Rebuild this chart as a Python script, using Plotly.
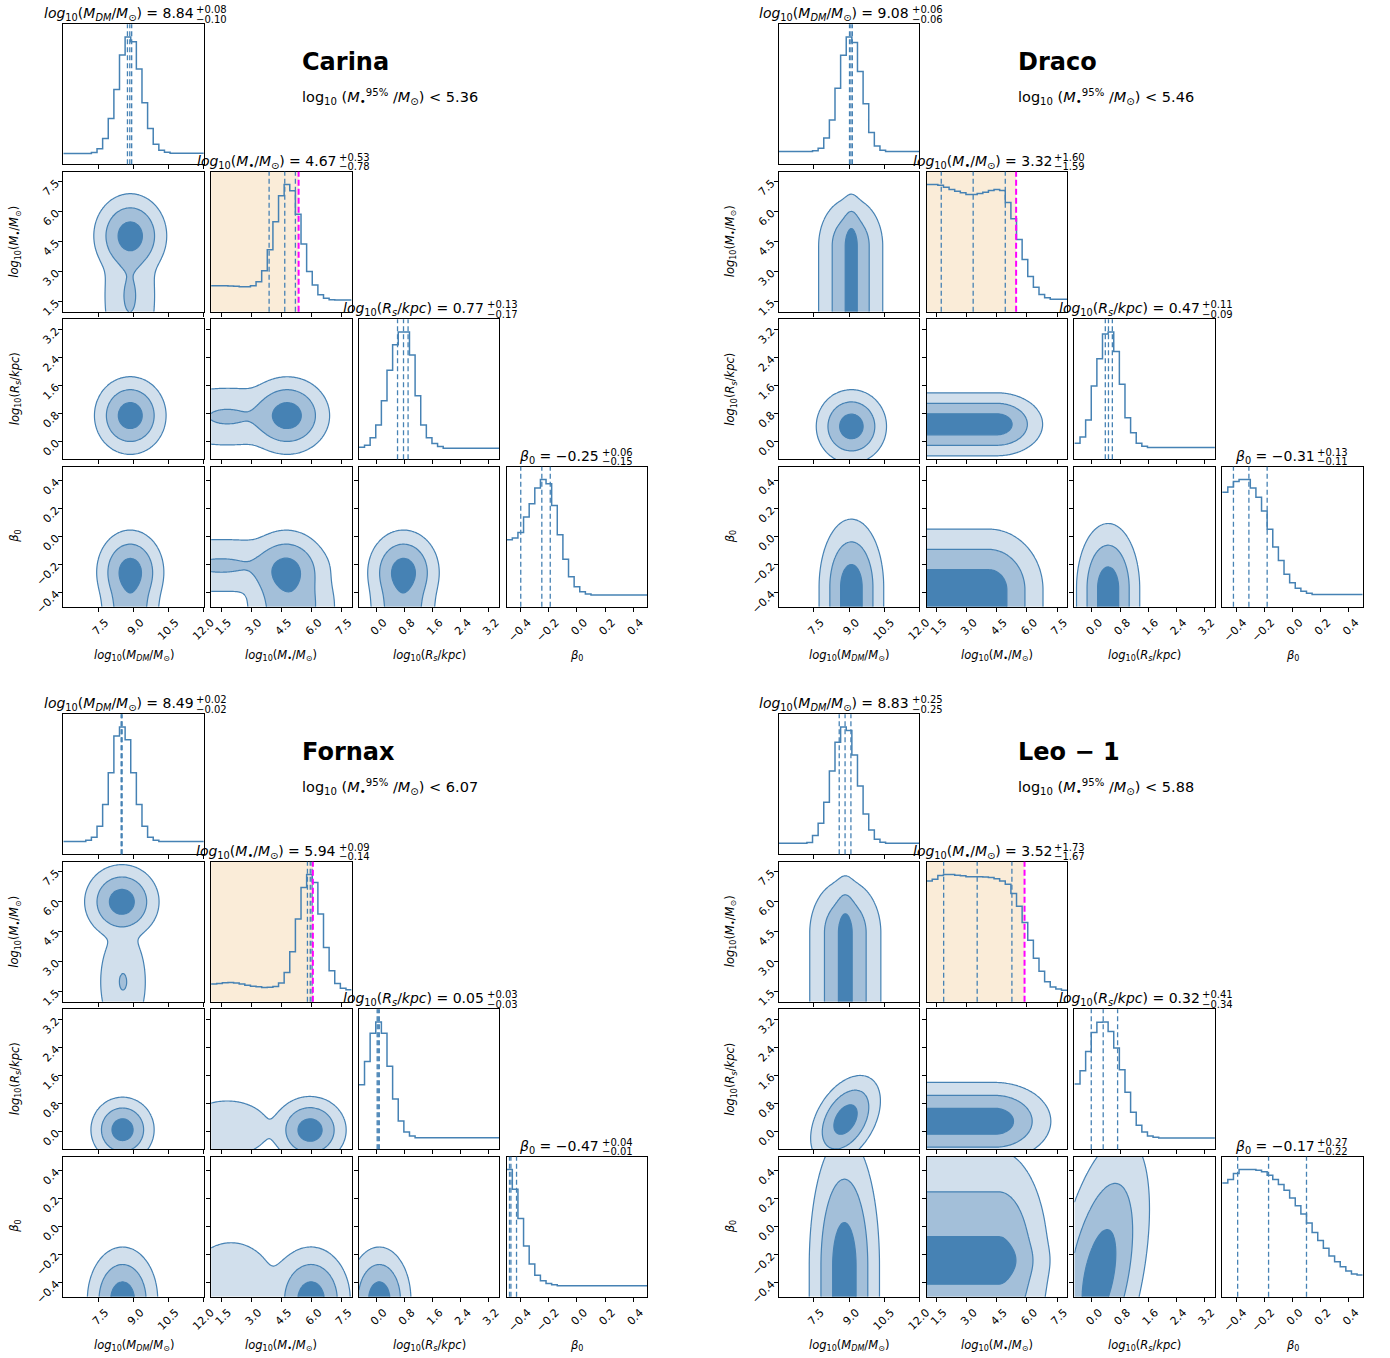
import numpy as np
import plotly.graph_objects as go

W, H = 1390, 1358

# ---------------- axes ----------------
MDM_RANGE = [6.0, 12.0]
MSTAR_RANGE = [1.0, 8.0]
RS_RANGE = [-0.5, 3.5]
BETA_RANGE = [-0.5, 0.5]

MDM_TICKS = [7.5, 9.0, 10.5, 12.0]
MSTAR_TICKS = [1.5, 3.0, 4.5, 6.0, 7.5]
RS_TICKS = [0.0, 0.8, 1.6, 2.4, 3.2]
BETA_TICKS = [-0.4, -0.2, 0.0, 0.2, 0.4]

PARAM_LABELS = [
    "<i>log</i><sub>10</sub>(<i>M</i><sub><i>DM</i></sub>/<i>M</i><sub>⊙</sub>)",
    "<i>log</i><sub>10</sub>(<i>M</i><sub>•</sub>/<i>M</i><sub>⊙</sub>)",
    "<i>log</i><sub>10</sub>(<i>R</i><sub><i>s</i></sub>/<i>kpc</i>)",
    "<i>β</i><sub>0</sub>",
]

GALAXY_NAMES = ["Carina", "Draco", "Fornax", "Leo − 1"]

# ---------------- Carina ----------------
CARINA_SUMMARY = [(8.84, 0.08, 0.10), (4.67, 0.53, 0.78), (0.77, 0.13, 0.17), (-0.25, 0.06, 0.15)]
CARINA_LIMIT = 5.36
CARINA_HIST_MDM = [0.084, 0.084, 0.084, 0.084, 0.084, 0.092, 0.123, 0.202, 0.36, 0.588, 0.858, 1.0, 0.963,
                   0.748, 0.483, 0.281, 0.158, 0.11, 0.095, 0.086, 0.086, 0.086, 0.086, 0.086, 0.086]
CARINA_HIST_MSTAR = [0.204, 0.204, 0.205, 0.203, 0.200, 0.197, 0.196, 0.205, 0.236, 0.322, 0.487, 0.707, 0.911,
                     1.0, 0.951, 0.767, 0.532, 0.317, 0.21, 0.134, 0.107, 0.094, 0.092, 0.092, 0.092]
CARINA_HIST_RS = [0.094, 0.11, 0.17, 0.27, 0.46, 0.70, 0.90, 1.0, 1.0, 0.82, 0.5, 0.27, 0.17, 0.125, 0.10,
                  0.086, 0.086, 0.086, 0.086, 0.086, 0.086, 0.086, 0.086, 0.086, 0.086]
CARINA_HIST_BETA = [0.526, 0.54, 0.584, 0.705, 0.81, 0.934, 1.0, 0.966, 0.795, 0.566, 0.374, 0.237, 0.158,
                    0.118, 0.10, 0.092, 0.092, 0.092, 0.092, 0.092, 0.092, 0.092, 0.092, 0.092, 0.092]
# density components: (x0, x1, y0, y1, sx, sy, weight, shear)
CARINA_KDE_MDM_MSTAR = [(8.86, 8.86, 4.8, 4.8, 0.52, 0.70, 1.0, 0), (8.84, 8.84, 1.8, 1.8, 0.46, 1.5, 0.16, 0)]
CARINA_KDE_MDM_RS = [(8.86, 8.86, 0.75, 0.75, 0.51, 0.37, 1.0, 0)]
CARINA_KDE_MSTAR_RS = [(4.8, 4.8, 0.75, 0.75, 0.70, 0.37, 1.0, 0), (1.8, 1.8, 0.72, 0.72, 1.5, 0.35, 0.165, 0)]
CARINA_KDE_MDM_BETA = [(8.86, 8.86, -0.25, -0.25, 0.48, 0.10, 1.0, 0), (8.86, 8.86, -0.5, -0.5, 0.44, 0.12, 0.45, 0)]
CARINA_KDE_MSTAR_BETA = [(4.75, 4.75, -0.25, -0.25, 0.68, 0.10, 1.0, 0), (5.0, 5.0, -0.5, -0.5, 0.8, 0.13, 0.45, 0),
                         (1.5, 1.5, -0.205, -0.205, 2.0, 0.08, 0.18, 0)]
CARINA_KDE_RS_BETA = [(0.77, 0.77, -0.25, -0.25, 0.34, 0.10, 1.0, 0), (0.75, 0.75, -0.5, -0.5, 0.33, 0.12, 0.45, 0)]

# ---------------- Draco ----------------
DRACO_SUMMARY = [(9.08, 0.06, 0.06), (3.32, 1.60, 1.59), (0.47, 0.11, 0.09), (-0.31, 0.13, 0.11)]
DRACO_LIMIT = 5.46
DRACO_HIST_MDM = [0.1, 0.1, 0.1, 0.1, 0.1, 0.1, 0.106, 0.126, 0.206, 0.349, 0.598, 0.857, 1.0, 0.957, 0.73,
                  0.475, 0.25, 0.143, 0.11, 0.1, 0.1, 0.1, 0.1, 0.1, 0.1]
DRACO_HIST_MSTAR = [1.0, 1.0, 0.994, 0.979, 0.961, 0.948, 0.935, 0.922, 0.922, 0.93, 0.94, 0.954, 0.961, 0.954,
                    0.858, 0.731, 0.569, 0.41, 0.277, 0.193, 0.136, 0.11, 0.098, 0.098, 0.098]
DRACO_HIST_RS = [0.126, 0.176, 0.309, 0.575, 0.79, 0.984, 1.0, 0.847, 0.59, 0.326, 0.209, 0.126, 0.103, 0.093,
                 0.093, 0.093, 0.093, 0.093, 0.093, 0.093, 0.093, 0.093, 0.093, 0.093, 0.093]
DRACO_HIST_BETA = [0.901, 0.941, 0.984, 1.0, 1.0, 0.934, 0.861, 0.752, 0.61, 0.47, 0.364, 0.255, 0.189, 0.146,
                   0.123, 0.106, 0.096, 0.096, 0.096, 0.096, 0.096, 0.096, 0.096, 0.096, 0.096]
DRACO_KDE_MDM_MSTAR = [(9.1, 9.1, -99, 4.3, 0.18, 0.86, 0.53, 0), (9.07, 9.07, -99, 4.3, 0.5, 0.86, 0.47, 0)]
DRACO_KDE_MDM_RS = [(9.1, 9.1, 0.44, 0.44, 0.5, 0.35, 1.0, 0)]
DRACO_KDE_MSTAR_RS = [(-99, 4.5, 0.5, 0.5, 0.76, 0.3, 1.0, 0)]
DRACO_KDE_MDM_BETA = [(9.1, 9.1, -99, -0.36, 0.46, 0.162, 1.0, 0)]
DRACO_KDE_MSTAR_BETA = [(-99, 4.1, -99, -0.38, 0.9, 0.145, 1.0, 0)]
DRACO_KDE_RS_BETA = [(0.46, 0.46, -99, -0.37, 0.3, 0.155, 1.0, 0)]

# ---------------- Fornax ----------------
FORNAX_SUMMARY = [(8.49, 0.02, 0.02), (5.94, 0.09, 0.14), (0.05, 0.03, 0.03), (-0.47, 0.04, 0.01)]
FORNAX_LIMIT = 6.07
FORNAX_HIST_MDM = [0.1, 0.1, 0.1, 0.1, 0.11, 0.133, 0.22, 0.392, 0.641, 0.93, 1.0, 0.9, 0.641, 0.392, 0.22,
                   0.133, 0.11, 0.1, 0.1, 0.1, 0.1, 0.1, 0.1, 0.1, 0.1]
FORNAX_HIST_MSTAR = [0.139, 0.144, 0.149, 0.152, 0.147, 0.139, 0.131, 0.123, 0.118, 0.113, 0.115, 0.12, 0.147,
                     0.23, 0.393, 0.65, 0.898, 1.0, 0.938, 0.689, 0.427, 0.244, 0.144, 0.107, 0.094]
FORNAX_HIST_RS = [0.508, 0.69, 0.912, 1.0, 0.912, 0.652, 0.396, 0.222, 0.136, 0.104, 0.091, 0.091, 0.091, 0.091,
                  0.091, 0.091, 0.091, 0.091, 0.091, 0.091, 0.091, 0.091, 0.091, 0.091, 0.091]
FORNAX_HIST_BETA = [1.0, 0.846, 0.615, 0.4, 0.257, 0.17, 0.126, 0.105, 0.094, 0.086, 0.086, 0.086, 0.086, 0.086,
                    0.086, 0.086, 0.086, 0.086, 0.086, 0.086, 0.086, 0.086, 0.086, 0.086, 0.086]
FORNAX_KDE_MDM_MSTAR = [(8.5, 8.5, 6.0, 6.0, 0.53, 0.62, 1.0, 0), (8.55, 8.55, 2.0, 2.0, 0.42, 1.1, 0.145, 0)]
FORNAX_KDE_MDM_RS = [(8.53, 8.53, 0.06, 0.06, 0.45, 0.31, 1.0, 0)]
FORNAX_KDE_MSTAR_RS = [(5.93, 5.93, 0.05, 0.05, 0.6, 0.32, 1.0, 0), (1.8, 1.8, 0.1, 0.1, 1.2, 0.45, 0.05, 0)]
FORNAX_KDE_MDM_BETA = [(8.53, 8.53, -0.52, -0.52, 0.5, 0.125, 1.0, 0)]
FORNAX_KDE_MSTAR_BETA = [(5.98, 5.98, -0.52, -0.52, 0.65, 0.125, 1.0, 0), (2.0, 2.0, -0.45, -0.45, 1.3, 0.2, 0.045, 0)]
FORNAX_KDE_RS_BETA = [(0.08, 0.08, -0.52, -0.52, 0.3, 0.125, 1.0, 0)]

# ---------------- Leo-1 ----------------
LEO_SUMMARY = [(8.83, 0.25, 0.25), (3.52, 1.73, 1.67), (0.32, 0.41, 0.34), (-0.17, 0.27, 0.22)]
LEO_LIMIT = 5.88
LEO_HIST_MDM = [0.086, 0.086, 0.086, 0.086, 0.086, 0.092, 0.147, 0.244, 0.409, 0.655, 0.88, 1.0, 0.972, 0.78,
                0.537, 0.317, 0.191, 0.118, 0.094, 0.086, 0.086, 0.086, 0.086, 0.086, 0.086]
LEO_HIST_MSTAR = [0.95, 0.963, 0.993, 1.0, 1.0, 0.995, 0.99, 0.983, 0.983, 0.983, 0.98, 0.977, 0.967, 0.95,
                  0.923, 0.85, 0.75, 0.623, 0.483, 0.343, 0.24, 0.157, 0.117, 0.1, 0.09]
LEO_HIST_RS = [0.514, 0.618, 0.769, 0.918, 0.998, 1.0, 0.925, 0.795, 0.626, 0.448, 0.292, 0.188, 0.136, 0.104,
               0.094, 0.089, 0.089, 0.089, 0.089, 0.089, 0.089, 0.089, 0.089, 0.089, 0.089]
LEO_HIST_BETA = [0.895, 0.921, 0.968, 1.0, 1.0, 1.0, 0.995, 0.982, 0.955, 0.921, 0.882, 0.837, 0.776, 0.716,
                 0.65, 0.579, 0.505, 0.442, 0.382, 0.321, 0.276, 0.237, 0.203, 0.179, 0.171]
LEO_KDE_MDM_MSTAR = [(8.84, 8.84, -99, 4.45, 0.2, 0.95, 0.5, 0), (8.84, 8.84, -99, 4.45, 0.55, 0.95, 0.5, 0)]
LEO_KDE_MDM_RS = [(8.85, 8.85, 0.35, 0.35, 0.45, 0.42, 1.0, 0.5)]
LEO_KDE_MSTAR_RS = [(-99, 4.4, 0.3, 0.3, 0.93, 0.37, 1.0, 0)]
LEO_KDE_MDM_BETA = [(8.8, 8.8, -99, -0.28, 0.5, 0.31, 1.0, 0)]
LEO_KDE_MSTAR_BETA = [(-99, 4.6, -0.24, -0.24, 0.85, 0.27, 0.7, 0), (-99, 4.6, -0.24, -0.24, 0.85, 0.08, 0.3, 0)]
LEO_KDE_RS_BETA = [(0.2, 0.2, -0.35, -0.35, 0.42, 0.33, 1.0, 0.7)]

# ---------------- assembly ----------------
RANGES = [MDM_RANGE, MSTAR_RANGE, RS_RANGE, BETA_RANGE]
TICKS = [MDM_TICKS, MSTAR_TICKS, RS_TICKS, BETA_TICKS]

GALAXIES = [
    dict(name=GALAXY_NAMES[0], summary=CARINA_SUMMARY, limit=CARINA_LIMIT,
         hists=[CARINA_HIST_MDM, CARINA_HIST_MSTAR, CARINA_HIST_RS, CARINA_HIST_BETA],
         kdes={(1, 0): CARINA_KDE_MDM_MSTAR, (2, 0): CARINA_KDE_MDM_RS, (2, 1): CARINA_KDE_MSTAR_RS,
               (3, 0): CARINA_KDE_MDM_BETA, (3, 1): CARINA_KDE_MSTAR_BETA, (3, 2): CARINA_KDE_RS_BETA}),
    dict(name=GALAXY_NAMES[1], summary=DRACO_SUMMARY, limit=DRACO_LIMIT,
         hists=[DRACO_HIST_MDM, DRACO_HIST_MSTAR, DRACO_HIST_RS, DRACO_HIST_BETA],
         kdes={(1, 0): DRACO_KDE_MDM_MSTAR, (2, 0): DRACO_KDE_MDM_RS, (2, 1): DRACO_KDE_MSTAR_RS,
               (3, 0): DRACO_KDE_MDM_BETA, (3, 1): DRACO_KDE_MSTAR_BETA, (3, 2): DRACO_KDE_RS_BETA}),
    dict(name=GALAXY_NAMES[2], summary=FORNAX_SUMMARY, limit=FORNAX_LIMIT,
         hists=[FORNAX_HIST_MDM, FORNAX_HIST_MSTAR, FORNAX_HIST_RS, FORNAX_HIST_BETA],
         kdes={(1, 0): FORNAX_KDE_MDM_MSTAR, (2, 0): FORNAX_KDE_MDM_RS, (2, 1): FORNAX_KDE_MSTAR_RS,
               (3, 0): FORNAX_KDE_MDM_BETA, (3, 1): FORNAX_KDE_MSTAR_BETA, (3, 2): FORNAX_KDE_RS_BETA}),
    dict(name=GALAXY_NAMES[3], summary=LEO_SUMMARY, limit=LEO_LIMIT,
         hists=[LEO_HIST_MDM, LEO_HIST_MSTAR, LEO_HIST_RS, LEO_HIST_BETA],
         kdes={(1, 0): LEO_KDE_MDM_MSTAR, (2, 0): LEO_KDE_MDM_RS, (2, 1): LEO_KDE_MSTAR_RS,
               (3, 0): LEO_KDE_MDM_BETA, (3, 1): LEO_KDE_MSTAR_BETA, (3, 2): LEO_KDE_RS_BETA}),
]

# layout geometry (pixels)
GX = [0.0, 715.5, 0.0, 715.5]
GY = [0.0, 0.0, 690.0, 690.0]
COL_X0, COL_PITCH, PANEL_W = 63.3, 147.8, 140.5
ROW_Y0, ROW_PITCH, PANEL_H = 24.3, 147.5, 140.0
TITLE_RIGHT_OFF = [62, 57, 57, 24.5]

BLUE = "#4682b4"
FILL_LIGHT = "rgb(209,223,236)"
FILL_MED = "rgb(163,191,217)"
FILL_DARK = "rgb(70,130,180)"
SHADE = "rgb(250,236,216)"
MAGENTA = "#ff00ff"
FONT = "DejaVu Sans"


def fmt(v, d=2):
    return f"{v:.{d}f}".replace("-", "\u2212")


def px(x):
    return x / W


def py(y):
    return 1 - y / H


def density(comps, xs, ys):
    X, Y = np.meshgrid(xs, ys)
    Z = np.zeros_like(X)
    for (x0, x1, y0, y1, sx, sy, w, k) in comps:
        yc = y0 if y0 == y1 else 0.0
        Xs = X - k * (Y - yc)
        dx = np.maximum(np.maximum(x0 - Xs, Xs - x1), 0.0)
        dy = np.maximum(np.maximum(y0 - Y, Y - y1), 0.0)
        Z += w * np.exp(-0.5 * (dx / sx) ** 2 - 0.5 * (dy / sy) ** 2)
    return Z


fig = go.Figure()
layout = dict(width=W, height=H, margin=dict(l=0, r=0, t=0, b=0, autoexpand=False), paper_bgcolor="white",
              plot_bgcolor="white", showlegend=False, font=dict(family=FONT, color="black"))
shapes, annotations = [], []
n = 0
for g, gal in enumerate(GALAXIES):
    ox, oy = GX[g], GY[g]
    for i in range(4):
        for j in range(i + 1):
            n += 1
            sfx = "" if n == 1 else str(n)
            xa, ya = "x" + sfx, "y" + sfx
            x0p = ox + COL_X0 + j * COL_PITCH
            y0p = oy + ROW_Y0 + i * ROW_PITCH
            xr = RANGES[j]
            xaxis = dict(domain=[px(x0p), px(x0p + PANEL_W)], anchor=ya, range=xr, showline=True, mirror=True,
                         linecolor="black", linewidth=1, showgrid=False, zeroline=False, ticks="outside",
                         ticklen=4, tickwidth=1, tickcolor="black", tickvals=TICKS[j],
                         ticktext=[fmt(t, 1) for t in TICKS[j]], showticklabels=(i == 3), tickangle=-45,
                         ticklabelshift=7, tickfont=dict(size=11, family=FONT), automargin=False)
            if i == j:
                vals = gal["hists"][i]
                yaxis = dict(domain=[py(y0p + PANEL_H), py(y0p)], anchor=xa, range=[0, 1.1 * max(vals)],
                             showline=True, mirror=True, linecolor="black", linewidth=1, showgrid=False,
                             zeroline=False, ticks="", showticklabels=False, automargin=False)
                edges = np.linspace(xr[0], xr[1], len(vals) + 1)
                if i == 1:
                    shapes.append(dict(type="rect", xref=xa, yref=ya + " domain", x0=xr[0], x1=gal["limit"],
                                       y0=0, y1=1, fillcolor=SHADE, line=dict(width=0), layer="below"))
                fig.add_trace(go.Scatter(x=edges, y=list(vals) + [vals[-1]], mode="lines",
                                         line=dict(color=BLUE, width=1.5, shape="hv"), xaxis=xa, yaxis=ya,
                                         hoverinfo="skip"))
                med, hi, lo = gal["summary"][i]
                for q in (med - lo, med, med + hi):
                    shapes.append(dict(type="line", xref=xa, yref=ya + " domain", x0=q, x1=q, y0=0, y1=1,
                                       line=dict(color=BLUE, width=1.3, dash="5px,3px")))
                if i == 1:
                    shapes.append(dict(type="line", xref=xa, yref=ya + " domain", x0=gal["limit"],
                                       x1=gal["limit"], y0=0, y1=1,
                                       line=dict(color=MAGENTA, width=2, dash="6px,3px")))
                # title
                cx = x0p + PANEL_W / 2
                xr_edge = cx + TITLE_RIGHT_OFF[i]
                annotations.append(dict(x=px(xr_edge), y=py(y0p - 10), xref="paper", yref="paper",
                                        xanchor="right", yanchor="middle", showarrow=False,
                                        text=f"{PARAM_LABELS[i]} = {fmt(med)}",
                                        font=dict(size=14, family=FONT)))
                annotations.append(dict(x=px(xr_edge - 1.5), y=py(y0p - 14.5), xref="paper", yref="paper",
                                        xanchor="left", yanchor="middle", showarrow=False,
                                        text="+" + fmt(hi), font=dict(size=10, family=FONT)))
                annotations.append(dict(x=px(xr_edge - 1.5), y=py(y0p - 5), xref="paper", yref="paper",
                                        xanchor="left", yanchor="middle", showarrow=False,
                                        text="\u2212" + fmt(lo), font=dict(size=10, family=FONT)))
            else:
                yr = RANGES[i]
                yaxis = dict(domain=[py(y0p + PANEL_H), py(y0p)], anchor=xa, range=yr, showline=True,
                             mirror=True, linecolor="black", linewidth=1, showgrid=False, zeroline=False,
                             ticks="outside", ticklen=4, tickwidth=1, tickcolor="black", tickvals=TICKS[i],
                             ticktext=[fmt(t, 1) for t in TICKS[i]], showticklabels=(j == 0), tickangle=-45,
                             tickfont=dict(size=11, family=FONT), automargin=False)
                N = 110
                xs = np.linspace(xr[0], xr[1], N)
                ys = np.linspace(yr[0], yr[1], N)
                Z = density(gal["kdes"][(i, j)], xs, ys)
                Z = np.maximum(Z / Z.max(), 1e-300)
                R = -np.sqrt(np.clip(-2 * np.log(Z), 0, 60))
                fig.add_trace(go.Contour(
                    x=xs, y=ys, z=np.round(R, 3), autocontour=False,
                    contours=dict(start=-3, end=-1, size=1, coloring="fill"),
                    colorscale=[[0, "rgba(255,255,255,0)"], [1 / 3, FILL_LIGHT], [2 / 3, FILL_MED], [1, FILL_DARK]],
                    showscale=False, line=dict(color=BLUE, width=1.2, smoothing=1.0),
                    xaxis=xa, yaxis=ya, hoverinfo="skip"))
            layout["xaxis" + sfx] = xaxis
            layout["yaxis" + sfx] = yaxis
    # axis titles
    for j in range(4):
        cx = ox + COL_X0 + j * COL_PITCH + PANEL_W / 2
        annotations.append(dict(x=px(cx), y=py(oy + 655), xref="paper", yref="paper", xanchor="center",
                                yanchor="middle", showarrow=False, text=PARAM_LABELS[j],
                                font=dict(size=11.5, family=FONT)))
    for i in range(1, 4):
        cy = oy + ROW_Y0 + i * ROW_PITCH + PANEL_H / 2
        annotations.append(dict(x=px(ox + 15), y=py(cy), xref="paper", yref="paper", xanchor="center",
                                yanchor="middle", showarrow=False, text=PARAM_LABELS[i], textangle=-90,
                                font=dict(size=11.5, family=FONT)))
    # galaxy name and stellar mass limit
    annotations.append(dict(x=px(ox + 300), y=py(oy + 62), xref="paper", yref="paper", xanchor="left",
                            yanchor="middle", showarrow=False, text=f"<b>{gal['name']}</b>",
                            font=dict(size=24, family=FONT)))
    annotations.append(dict(x=px(ox + 300), y=py(oy + 97), xref="paper", yref="paper", xanchor="left",
                            yanchor="middle", showarrow=False,
                            text=f"log<sub>10</sub> (<i>M</i><sub>•</sub><sup>95%</sup> /<i>M</i><sub>⊙</sub>) &lt; {gal['limit']:.2f}",
                            font=dict(size=14.5, family=FONT)))

layout["shapes"] = shapes
layout["annotations"] = annotations
fig.update_layout(**layout)
fig.write_html("out.html")
